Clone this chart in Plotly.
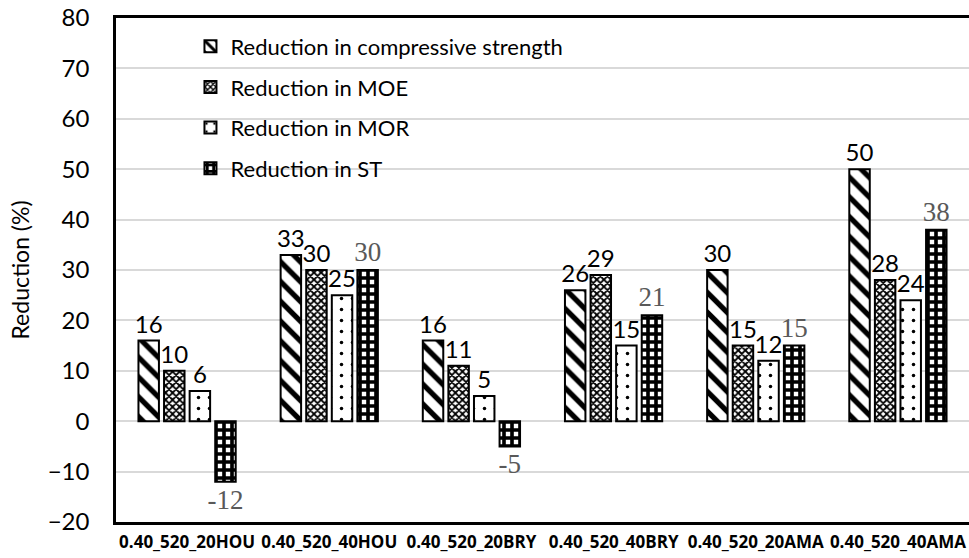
import plotly.graph_objects as go

# Mix designs on the x axis
categories = ["0.40_520_20HOU", "0.40_520_40HOU", "0.40_520_20BRY",
              "0.40_520_40BRY", "0.40_520_20AMA", "0.40_520_40AMA"]

# Percentage reduction of each property
compressive = [16, 33, 16, 26, 30, 50]
moe = [10, 30, 11, 29, 15, 28]
mor = [6, 25, 5, 15, 12, 24]
st = [-12, 30, -5, 21, 15, 38]

y_ticks = list(range(-20, 81, 10))

series = [
    ("Reduction in compressive strength", compressive,
     dict(shape="\\", size=14, solidity=0.38), "black", "Lato", 24),
    ("Reduction in MOE", moe,
     dict(shape="x", size=5, solidity=0.6), "black", "Lato", 24),
    ("Reduction in MOR", mor,
     dict(shape=".", size=11, solidity=0.08), "black", "Lato", 24),
    ("Reduction in ST", st,
     dict(shape="+", size=8, solidity=0.7), "#595959", "Liberation Serif", 27),
]

fig = go.Figure()
for i, (name, vals, pat, tcolor, tfont, tsize) in enumerate(series):
    fig.add_trace(go.Bar(
        name=name,
        x=categories,
        y=vals,
        legendgroup=f"g{i}",
        text=[str(v) for v in vals],
        textposition="outside",
        constraintext="none",
        cliponaxis=False,
        textfont=dict(family=tfont, size=tsize, color=tcolor),
        marker=dict(
            color="white",
            line=dict(color="black", width=2),
            pattern=dict(fgcolor="black", bgcolor="white", fillmode="replace", **pat),
        ),
    ))

fig.update_layout(
    width=969,
    height=558,
    margin=dict(l=116, r=0, t=18, b=36),
    paper_bgcolor="white",
    plot_bgcolor="white",
    barmode="group",
    bargap=0.28,
    bargroupgap=0.2,
    font=dict(family="Lato", color="black"),
    showlegend=True,
    legend=dict(
        x=0.0873, y=0.985, xanchor="left", yanchor="top",
        bgcolor="rgba(0,0,0,0)",
        font=dict(family="Lato", size=22, color="black"),
        tracegroupgap=9,
        itemwidth=30,
    ),
    xaxis=dict(
        showline=True, linecolor="black", linewidth=2.5,
        mirror=True,
        tickfont=dict(family="Open Sans", size=17, color="black", weight="bold"),
        ticks="", showgrid=False, ticklabelstandoff=3,
    ),
    yaxis=dict(
        range=[-20, 80],
        tickvals=y_ticks,
        showline=True, linecolor="black", linewidth=2.5,
        mirror=False,
        showgrid=True, gridcolor="#d9d9d9", gridwidth=1.5,
        zeroline=True, zerolinecolor="#d9d9d9", zerolinewidth=1.5,
        ticks="", ticklabelstandoff=19,
        tickfont=dict(family="Lato", size=24, color="black"),
        title=dict(text="Reduction (%)", font=dict(family="Lato", size=23, color="black"), standoff=12),
    ),
)

fig.write_html("out.html")
